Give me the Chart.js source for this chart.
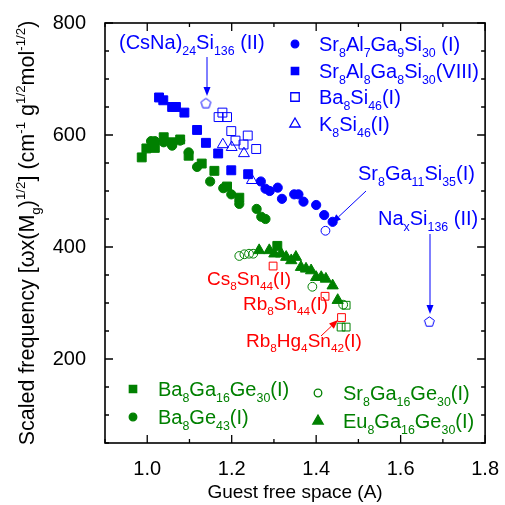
<!DOCTYPE html>
<html><head><meta charset="utf-8">
<script src="https://cdn.jsdelivr.net/npm/chart.js@4"></script>
<style>html,body{margin:0;padding:0;background:#fff}</style>
</head><body>
<canvas id="c" width="505" height="505"></canvas>
<script>
// ---------------- data ----------------
const srAl7Ga9Si30_x = [1.269,1.280,1.290,1.309,1.319,1.348,1.358,1.370,1.400,1.419,1.439];
const srAl7Ga9Si30_y = [517,504,500,506,486,494,494,481,475,457,445];
const srAl8Ga8Si30_x = [1.028,1.038,1.059,1.068,1.088,1.118,1.139,1.168,1.199,1.239];
const srAl8Ga8Si30_y = [667,662,650,650,640,609,586,567,537,530];
const ba8Si46_x = [1.178,1.169,1.189,1.199,1.238,1.209,1.228,1.258];
const ba8Si46_y = [640,632,632,607,599,590,583,575];
const k8Si46_x = [1.179,1.200,1.229,1.248];
const k8Si46_y = [583,578,567,519];
const sr8Ga11Si35_x = [1.422];
const sr8Ga11Si35_y = [429];
const csNaSi136_x = [1.139];
const csNaSi136_y = [657];
const naxSi136_x = [1.668];
const naxSi136_y = [267];
const ba8Ga16Ge30_x = [0.987,0.998,1.018,1.039,1.059,1.078,1.098,1.129,1.159,1.189,1.218,1.308];
const ba8Ga16Ge30_y = [560,576,577,596,587,592,563,549,536,508,488,402];
const ba8Ge43_x = [1.009,1.018,1.039,1.059,1.078,1.098,1.118,1.149,1.180,1.199,1.218,1.259,1.270,1.280];
const ba8Ge43_y = [589,589,587,581,590,569,543,517,505,494,477,468,454,450];
const sr8Ga16Ge30_x = [1.218,1.230,1.241,1.251,1.391,1.464];
const sr8Ga16Ge30_y = [384,387,388,388,329,297];
const eu8Ga16Ge30_x = [1.265,1.289,1.301,1.317,1.329,1.341,1.352,1.364,1.376,1.388,1.400,1.412,1.423,1.439,1.451];
const eu8Ga16Ge30_y = [394,394,388,388,382,376,382,364,361,358,346,346,343,331,305];
const greenOpenSq_x = [1.471,1.459,1.471];
const greenOpenSq_y = [296,257,257];
const snClathrate_x = [1.298,1.421,1.460];   // Cs8Sn44, Rb8Sn44, Rb8Hg4Sn42
const snClathrate_y = [366,312,274];

const xTickLabels = ['1.0','1.2','1.4','1.6','1.8'];
const yTickLabels = ['200','400','600','800'];

// ---------------- styling ----------------
const BLUE = '#0000ff', GREEN = '#008000', RED = '#ff0000';
const FONT = '"Liberation Sans", Arial, sans-serif';

function pts(xs, ys){ return xs.map((x,i)=>({x:x, y:ys[i]})); }

function pentagon(color){
  const c = document.createElement('canvas'); c.width = 13; c.height = 13;
  const g = c.getContext('2d'); g.strokeStyle = color; g.lineWidth = 1;
  g.beginPath();
  for (let i=0;i<5;i++){
    const a = -Math.PI/2 + i*2*Math.PI/5;
    const px = 6.5 + 5.2*Math.cos(a), py = 7 + 5.2*Math.sin(a);
    i ? g.lineTo(px,py) : g.moveTo(px,py);
  }
  g.closePath(); g.stroke();
  return c;
}
const PENT = pentagon(BLUE);

function ds(data, style, radius, color, filled){
  return {data: data, pointStyle: style, pointRadius: radius, borderWidth: 1,
    borderColor: color, backgroundColor: filled ? color : 'rgba(0,0,0,0)', showLine:false};
}

const datasets = [
  ds(pts(srAl7Ga9Si30_x, srAl7Ga9Si30_y), 'circle', 4.6, BLUE, true),
  ds(pts(srAl8Ga8Si30_x, srAl8Ga8Si30_y), 'rect', 6.3, BLUE, true),
  ds(pts(ba8Si46_x, ba8Si46_y), 'rect', 6.3, BLUE, false),
  ds(pts(k8Si46_x, k8Si46_y), 'triangle', 6.3, BLUE, false),
  ds(pts(sr8Ga11Si35_x, sr8Ga11Si35_y), 'circle', 4.4, BLUE, false),
  ds(pts(csNaSi136_x, csNaSi136_y), PENT, 6, BLUE, false),
  ds(pts(naxSi136_x, naxSi136_y), PENT, 6, BLUE, false),
  ds(pts(eu8Ga16Ge30_x, eu8Ga16Ge30_y), 'triangle', 6.5, GREEN, true),
  ds(pts(ba8Ga16Ge30_x, ba8Ga16Ge30_y), 'rect', 6.3, GREEN, true),
  ds(pts(ba8Ge43_x, ba8Ge43_y), 'circle', 4.6, GREEN, true),
  ds(pts(sr8Ga16Ge30_x, sr8Ga16Ge30_y), 'circle', 4.4, GREEN, false),
  ds(pts(greenOpenSq_x, greenOpenSq_y), 'rect', 5.5, GREEN, false),
  ds(pts(snClathrate_x, snClathrate_y), 'rect', 5.5, RED, false)
];

// ---------------- rich text helper ----------------
function parseRich(s){
  const out = []; let i = 0, buf = '';
  while (i < s.length){
    const ch = s[i];
    if ((ch === '_' || ch === '^') && s[i+1] === '{'){
      if (buf){ out.push({t:buf, m:0}); buf=''; }
      const end = s.indexOf('}', i+2);
      out.push({t:s.slice(i+2,end), m: ch === '_' ? 1 : 2});
      i = end + 1;
    } else { buf += ch; i++; }
  }
  if (buf) out.push({t:buf, m:0});
  return out;
}
function drawRich(ctx, s, x, y, size, color, align){
  const parts = parseRich(s);
  const small = size*0.62;
  let w = 0;
  parts.forEach(p=>{ ctx.font = (p.m? small: size)+'px '+FONT; p.w = ctx.measureText(p.t).width; w += p.w; });
  let cx = align === 'center' ? x - w/2 : x;
  ctx.fillStyle = color; ctx.textBaseline = 'alphabetic'; ctx.textAlign = 'left';
  parts.forEach(p=>{
    ctx.font = (p.m? small: size)+'px '+FONT;
    const dy = p.m === 1 ? size*0.28 : (p.m === 2 ? -size*0.42 : 0);
    ctx.fillText(p.t, cx, y + dy);
    cx += p.w;
  });
}
function arrow(ctx, x1, y1, x2, y2, color){
  ctx.save(); ctx.strokeStyle = color; ctx.fillStyle = color; ctx.lineWidth = 1;
  const a = Math.atan2(y2-y1, x2-x1), L = 9, W = 3.5;
  const bx = x2 - L*Math.cos(a), by = y2 - L*Math.sin(a);
  ctx.beginPath(); ctx.moveTo(x1,y1); ctx.lineTo(bx,by); ctx.stroke();
  ctx.beginPath(); ctx.moveTo(x2,y2);
  ctx.lineTo(bx + W*Math.sin(a), by - W*Math.cos(a));
  ctx.lineTo(bx - W*Math.sin(a), by + W*Math.cos(a));
  ctx.closePath(); ctx.fill(); ctx.restore();
}

// ---------------- decorations plugin ----------------
const deco = {
  id: 'deco',
  afterDraw(chart){
    const ctx = chart.ctx, a = chart.chartArea;
    const xs = chart.scales.x, ys = chart.scales.y;
    ctx.save();
    // frame
    ctx.strokeStyle = '#000'; ctx.lineWidth = 1.6;
    ctx.strokeRect(a.left, a.top, a.right - a.left, a.bottom - a.top);
    // inward ticks
    ctx.lineWidth = 1.3;
    ctx.beginPath();
    for (let k = 9; k <= 18; k++){
      const v = k/10, px = xs.getPixelForValue(v);
      const len = (k % 2 === 0) ? 8 : 4;
      ctx.moveTo(px, a.bottom); ctx.lineTo(px, a.bottom - len);
      ctx.moveTo(px, a.top); ctx.lineTo(px, a.top + len);
    }
    for (let v = 50; v <= 800; v += 50){
      const py = ys.getPixelForValue(v);
      const len = (v % 200 === 0) ? 8 : 4;
      ctx.moveTo(a.left, py); ctx.lineTo(a.left + len, py);
      ctx.moveTo(a.right, py); ctx.lineTo(a.right - len, py);
    }
    ctx.stroke();

    // y-axis title
    ctx.save();
    ctx.translate(34, (a.top + a.bottom)/2);
    ctx.rotate(-Math.PI/2);
    drawRich(ctx, 'Scaled frequency [\u03c9x(M_{g})^{1/2}] (cm^{-1} g^{1/2}mol^{-1/2})', 0, 0, 21.5, '#000', 'center');
    ctx.restore();
    // x-axis title
    drawRich(ctx, 'Guest free space (A)', (a.left + a.right)/2, 498, 19, '#000', 'center');

    // legends (top right, blue)
    const H = Chart.helpers;
    const leg = [
      ['circle', 3.8, true, 'Sr_{8}Al_{7}Ga_{9}Si_{30} (I)', 44],
      ['rect', 5.2, true, 'Sr_{8}Al_{8}Ga_{8}Si_{30}(VIII)', 71],
      ['rect', 6, false, 'Ba_{8}Si_{46}(I)', 97],
      ['triangle', 6, false, 'K_{8}Si_{46}(I)', 124]
    ];
    leg.forEach(l=>{
      ctx.fillStyle = l[2] ? BLUE : 'rgba(0,0,0,0)'; ctx.strokeStyle = BLUE;
      H.drawPoint(ctx, {pointStyle:l[0], radius:l[1], borderWidth:1, rotation:0}, 295, l[4]);
      drawRich(ctx, l[3], 319, l[4] + 7, 20, BLUE, 'left');
    });
    // legends (bottom, green)
    const legG = [
      ['rect', 5.2, true, 'Ba_{8}Ga_{16}Ge_{30}(I)', 133, 389],
      ['circle', 3.8, true, 'Ba_{8}Ge_{43}(I)', 133, 417],
      ['circle', 3.8, false, 'Sr_{8}Ga_{16}Ge_{30}(I)', 318, 393],
      ['triangle', 6, true, 'Eu_{8}Ga_{16}Ge_{30}(I)', 318, 421]
    ];
    legG.forEach(l=>{
      ctx.fillStyle = l[2] ? GREEN : 'rgba(0,0,0,0)'; ctx.strokeStyle = GREEN;
      H.drawPoint(ctx, {pointStyle:l[0], radius:l[1], borderWidth:1, rotation:0}, l[4], l[5]);
      drawRich(ctx, l[3], l[4] + 25, l[5] + 7, 20, GREEN, 'left');
    });

    // annotations
    drawRich(ctx, '(CsNa)_{24}Si_{136} (II)', 119, 49, 20, BLUE, 'left');
    arrow(ctx, 207, 57, 207, 96, BLUE);
    drawRich(ctx, 'Sr_{8}Ga_{11}Si_{35}(I)', 358, 180, 20, BLUE, 'left');
    arrow(ctx, 366, 191, 332, 223, BLUE);
    drawRich(ctx, 'Na_{x}Si_{136} (II)', 378, 225, 20, BLUE, 'left');
    arrow(ctx, 430, 234, 430, 314, BLUE);
    drawRich(ctx, 'Cs_{8}Sn_{44}(I)', 207, 285, 19, RED, 'left');
    drawRich(ctx, 'Rb_{8}Sn_{44}(I)', 243, 310, 19, RED, 'left');
    drawRich(ctx, 'Rb_{8}Hg_{4}Sn_{42}(I)', 246, 347, 19, RED, 'left');
    arrow(ctx, 321, 336, 338, 320, RED);
    ctx.restore();
  }
};

new Chart(document.getElementById('c'), {
  type: 'scatter',
  data: { datasets: datasets },
  options: {
    responsive: false, animation: false, devicePixelRatio: 1, events: [],
    layout: { padding: { top: 22, right: 19, left: 0, bottom: 0 } },
    plugins: { legend: { display: false }, tooltip: { enabled: false } },
    scales: {
      x: {
        type: 'linear', min: 0.9, max: 1.8,
        afterFit: s => { s.height = 62; },
        grid: { display: false }, border: { display: false },
        ticks: { stepSize: 0.1, autoSkip: false, maxRotation: 0, padding: 6, color: '#000',
          font: { family: FONT, size: 20 },
          callback: v => { const s = (Math.round(v*10)/10).toFixed(1); return xTickLabels.includes(s) ? s : ''; } }
      },
      y: {
        type: 'linear', min: 50, max: 800,
        afterFit: s => { s.width = 105; },
        grid: { display: false }, border: { display: false },
        ticks: { stepSize: 50, autoSkip: false, padding: 11, color: '#000',
          font: { family: FONT, size: 20 },
          callback: v => { const s = String(Math.round(v)); return yTickLabels.includes(s) ? s : ''; } }
      }
    }
  },
  plugins: [deco]
});
</script>
</body></html>
